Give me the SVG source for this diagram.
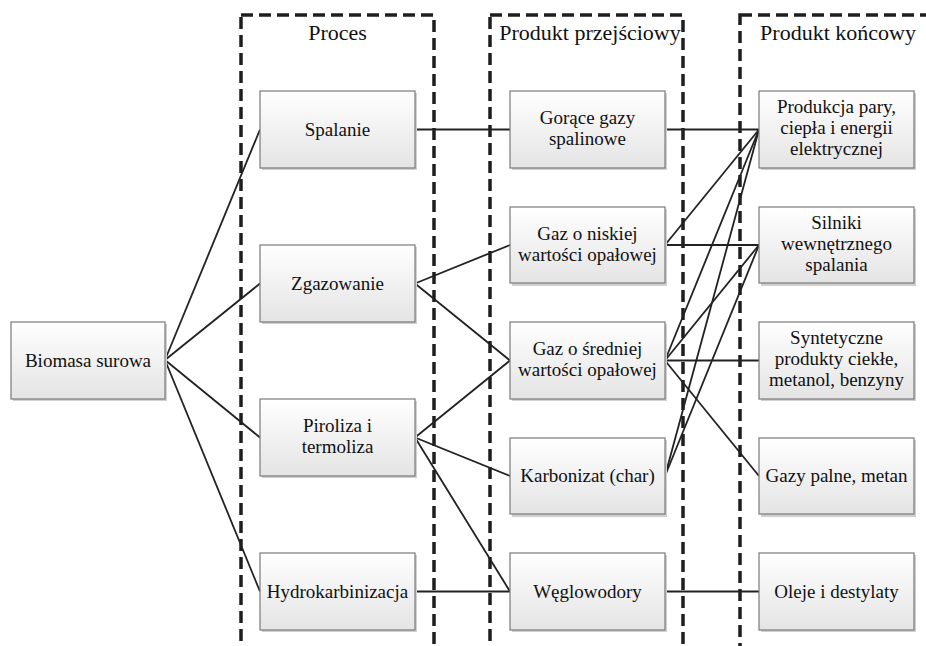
<svg xmlns="http://www.w3.org/2000/svg" width="926" height="646" viewBox="0 0 926 646">
<defs>
<linearGradient id="g" x1="0" y1="0" x2="0" y2="1">
<stop offset="0" stop-color="#ffffff"/>
<stop offset="1" stop-color="#e4e4e4"/>
</linearGradient>
<style>
.col{fill:none;stroke:#1e1e1e;stroke-width:3.5;stroke-dasharray:12 6}
.hd{font-family:"Liberation Serif",serif;font-size:22px;fill:#111;text-anchor:middle}
.bx rect.s{fill:#d0d0d0;stroke:none}
.bx rect.b{fill:url(#g);stroke:#7a7a7a;stroke-width:1.2}
.bx text{font-family:"Liberation Serif",serif;font-size:19px;fill:#111;text-anchor:middle}
#connectors line{stroke:#222;stroke-width:1.8}
</style>
</defs>
<rect width="926" height="646" fill="#ffffff"/>
<g id="columns">
<rect class="col" x="241" y="15" width="193" height="660"/>
<rect class="col" x="490" y="15" width="193" height="660"/>
<rect class="col" x="740" y="15" width="200" height="660"/>
<text class="hd" x="337.5" y="40">Proces</text>
<text class="hd" x="590" y="40">Produkt przejściowy</text>
<text class="hd" x="838" y="40">Produkt końcowy</text>
</g>
<g id="connectors">
<line x1="165" y1="360" x2="260" y2="129.5"/>
<line x1="165" y1="360" x2="260" y2="283.5"/>
<line x1="165" y1="360" x2="260" y2="437.5"/>
<line x1="165" y1="360" x2="260" y2="591.5"/>
<line x1="415" y1="129.5" x2="510" y2="129.5"/>
<line x1="415" y1="283.5" x2="510" y2="245"/>
<line x1="415" y1="283.5" x2="510" y2="360.5"/>
<line x1="415" y1="437.5" x2="510" y2="360.5"/>
<line x1="415" y1="437.5" x2="510" y2="476"/>
<line x1="415" y1="437.5" x2="510" y2="591.5"/>
<line x1="415" y1="591.5" x2="510" y2="591.5"/>
<line x1="665" y1="129.5" x2="759" y2="129.5"/>
<line x1="665" y1="245" x2="759" y2="129.5"/>
<line x1="665" y1="245" x2="759" y2="245"/>
<line x1="665" y1="360.5" x2="759" y2="129.5"/>
<line x1="665" y1="360.5" x2="759" y2="245"/>
<line x1="665" y1="360.5" x2="759" y2="360.5"/>
<line x1="665" y1="360.5" x2="759" y2="476"/>
<line x1="665" y1="476" x2="759" y2="129.5"/>
<line x1="665" y1="476" x2="759" y2="245"/>
<line x1="665" y1="591.5" x2="759" y2="591.5"/>
</g>
<g id="n_biomasa" class="bx"><rect class="s" x="13" y="324" width="154" height="77"/><rect class="b" x="11" y="322" width="154" height="77"/><text x="88" y="367">Biomasa surowa</text></g>
<g id="n_spalanie" class="bx"><rect class="s" x="262" y="93" width="155" height="77"/><rect class="b" x="260" y="91" width="155" height="77"/><text x="337.5" y="136">Spalanie</text></g>
<g id="n_zgazowanie" class="bx"><rect class="s" x="262" y="247" width="155" height="77"/><rect class="b" x="260" y="245" width="155" height="77"/><text x="337.5" y="290">Zgazowanie</text></g>
<g id="n_piroliza" class="bx"><rect class="s" x="262" y="401" width="155" height="77"/><rect class="b" x="260" y="399" width="155" height="77"/><text x="337.5" y="432">Piroliza i</text><text x="337.5" y="453">termoliza</text></g>
<g id="n_hydro" class="bx"><rect class="s" x="262" y="555" width="155" height="77"/><rect class="b" x="260" y="553" width="155" height="77"/><text x="337.5" y="598">Hydrokarbinizacja</text></g>
<g id="n_goraca" class="bx"><rect class="s" x="512" y="93" width="155" height="77"/><rect class="b" x="510" y="91" width="155" height="77"/><text x="587.5" y="124">Gorące gazy</text><text x="587.5" y="145">spalinowe</text></g>
<g id="n_niska" class="bx"><rect class="s" x="512" y="209" width="155" height="77"/><rect class="b" x="510" y="207" width="155" height="76"/><text x="587.5" y="240">Gaz o niskiej</text><text x="587.5" y="261">wartości opałowej</text></g>
<g id="n_srednia" class="bx"><rect class="s" x="512" y="324" width="155" height="77"/><rect class="b" x="510" y="322" width="155" height="77"/><text x="587.5" y="355">Gaz o średniej</text><text x="587.5" y="376">wartości opałowej</text></g>
<g id="n_karbonizat" class="bx"><rect class="s" x="512" y="440" width="155" height="77"/><rect class="b" x="510" y="438" width="155" height="76"/><text x="587.5" y="482">Karbonizat (char)</text></g>
<g id="n_weglowodory" class="bx"><rect class="s" x="512" y="555" width="155" height="77"/><rect class="b" x="510" y="553" width="155" height="77"/><text x="587.5" y="598">Węglowodory</text></g>
<g id="n_produkcja" class="bx"><rect class="s" x="761" y="93" width="155" height="77"/><rect class="b" x="759" y="91" width="155" height="77"/><text x="836.5" y="113">Produkcja pary,</text><text x="836.5" y="134">ciepła i energii</text><text x="836.5" y="155">elektrycznej</text></g>
<g id="n_silniki" class="bx"><rect class="s" x="761" y="209" width="155" height="77"/><rect class="b" x="759" y="207" width="155" height="76"/><text x="836.5" y="229">Silniki</text><text x="836.5" y="250">wewnętrznego</text><text x="836.5" y="271">spalania</text></g>
<g id="n_syntetyczne" class="bx"><rect class="s" x="761" y="324" width="155" height="77"/><rect class="b" x="759" y="322" width="155" height="77"/><text x="836.5" y="344">Syntetyczne</text><text x="836.5" y="365">produkty ciekłe,</text><text x="836.5" y="386">metanol, benzyny</text></g>
<g id="n_gazy" class="bx"><rect class="s" x="761" y="440" width="155" height="77"/><rect class="b" x="759" y="438" width="155" height="76"/><text x="836.5" y="482">Gazy palne, metan</text></g>
<g id="n_oleje" class="bx"><rect class="s" x="761" y="555" width="155" height="77"/><rect class="b" x="759" y="553" width="155" height="77"/><text x="836.5" y="598">Oleje i destylaty</text></g>
</svg>
